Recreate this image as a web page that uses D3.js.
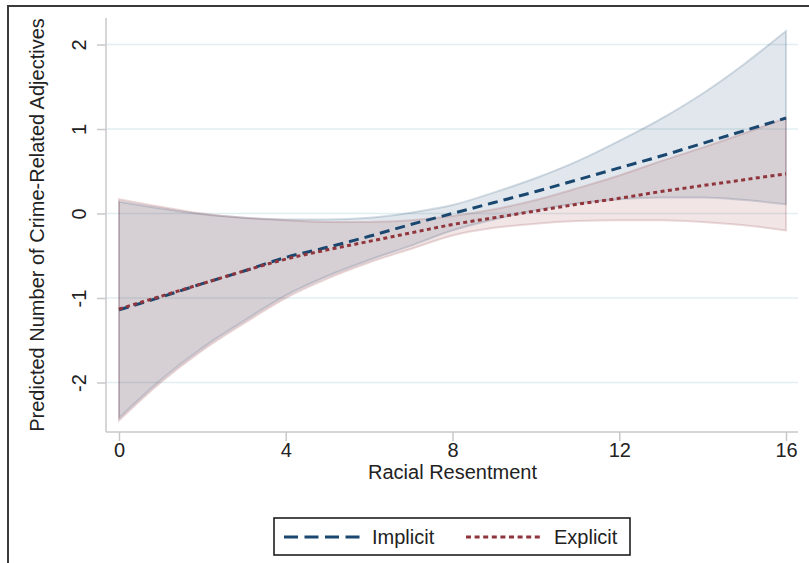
<!DOCTYPE html>
<html>
<head>
<meta charset="UTF-8">
<style>
body{
	margin: 0;
	font-family: "Liberation Sans", Arial, sans-serif;
	background: #fff;
}
.grid line{
	stroke: #e2eef1;
	stroke-width: 1.5;
}
.axis path, .axis line{
	stroke: #c8c8c8;
	stroke-width: 1.5;
	fill: none;
}
.axis text, .axis-label, .legend text{
	font-size: 20px;
	fill: #222;
}
</style>
<script src="https://cdn.jsdelivr.net/npm/d3@7"></script>
</head>
<body>
<script>
var resentment   = [0, 1, 2, 3, 4, 5, 6, 7, 8, 9, 10, 11, 12, 13, 14, 15, 16];
var implicitFit  = [-1.14, -0.99, -0.83, -0.68, -0.52, -0.40, -0.27, -0.13, 0.00, 0.13, 0.26, 0.40, 0.54, 0.68, 0.83, 0.98, 1.13];
var implicitHi   = [0.14, 0.06, -0.01, -0.05, -0.07, -0.07, -0.05, 0.01, 0.10, 0.25, 0.42, 0.62, 0.86, 1.12, 1.42, 1.77, 2.16];
var implicitLo   = [-2.42, -1.97, -1.59, -1.27, -0.97, -0.74, -0.55, -0.38, -0.20, -0.07, 0.04, 0.12, 0.17, 0.19, 0.19, 0.16, 0.11];
var explicitFit  = [-1.13, -0.98, -0.83, -0.68, -0.54, -0.43, -0.33, -0.23, -0.13, -0.05, 0.03, 0.11, 0.18, 0.26, 0.33, 0.40, 0.47];
var explicitHi   = [0.17, 0.08, 0.00, -0.05, -0.08, -0.10, -0.10, -0.08, -0.03, 0.05, 0.16, 0.30, 0.45, 0.62, 0.78, 0.95, 1.13];
var explicitLo   = [-2.45, -2.00, -1.62, -1.30, -1.00, -0.77, -0.58, -0.42, -0.26, -0.17, -0.12, -0.09, -0.08, -0.08, -0.10, -0.14, -0.20];
var xTicks = [0, 4, 8, 12, 16];
var yTicks = [-2, -1, 0, 1, 2];
var seriesNames = ["Implicit", "Explicit"];

var W = 809, H = 563;
var plot = {left: 106, right: 798, top: 18, bottom: 432};

var x = d3.scaleLinear().domain([0, 16]).range([119, 786]);
var y = d3.scaleLinear().domain([0, 2]).range([213.5, 44.5]);

var svg = d3.select("body").append("svg")
	.attr("width", W)
	.attr("height", H);

// outer frame, runs off the page on the right and bottom
svg.append("rect")
	.attr("x", 8).attr("y", 6)
	.attr("width", 900).attr("height", 700)
	.attr("fill", "none")
	.attr("stroke", "#3a3a3a")
	.attr("stroke-width", 2);

svg.append("g").attr("class", "grid")
	.selectAll("line")
	.data(yTicks)
	.enter().append("line")
	.attr("x1", plot.left).attr("x2", plot.right)
	.attr("y1", function(d){ return y(d); })
	.attr("y2", function(d){ return y(d); });

function rows(fit, hi, lo){
	return resentment.map(function(r, i){ return {x: r, fit: fit[i], hi: hi[i], lo: lo[i]}; });
}
var series = [
	{name: seriesNames[0], rows: rows(implicitFit, implicitHi, implicitLo), color: "#1a476f", dash: "10,6", keyDash: "14,6.5"},
	{name: seriesNames[1], rows: rows(explicitFit, explicitHi, explicitLo), color: "#90353b", dash: "4,3.4", keyDash: "5,3.6"}
];

var band = d3.area().curve(d3.curveMonotoneX)
	.x(function(d){ return x(d.x); })
	.y0(function(d){ return y(d.lo); })
	.y1(function(d){ return y(d.hi); });

var line = d3.line().curve(d3.curveMonotoneX)
	.x(function(d){ return x(d.x); })
	.y(function(d){ return y(d.fit); });

series.forEach(function(s){
	svg.append("path")
		.attr("d", band(s.rows))
		.attr("fill", s.color)
		.attr("fill-opacity", 0.13)
		.attr("stroke", s.color)
		.attr("stroke-opacity", 0.18)
		.attr("stroke-width", 2);
});

series.forEach(function(s){
	svg.append("path")
		.attr("d", line(s.rows))
		.attr("fill", "none")
		.attr("stroke", s.color)
		.attr("stroke-width", 3)
		.attr("stroke-dasharray", s.dash);
});

var fmt = function(d){ return String(d); };

var xAxis = svg.append("g").attr("class", "axis")
	.attr("transform", "translate(0," + plot.bottom + ")")
	.call(d3.axisBottom(x).tickValues(xTicks).tickFormat(fmt).tickSize(9).tickPadding(2).tickSizeOuter(0));
xAxis.select(".domain").attr("d", "M" + plot.left + ",0H" + plot.right);

var yAxis = svg.append("g").attr("class", "axis")
	.attr("transform", "translate(" + plot.left + ",0)")
	.call(d3.axisLeft(y).tickValues(yTicks).tickFormat(fmt).tickSize(9).tickSizeOuter(0));
yAxis.select(".domain").attr("d", "M0," + plot.top + "V" + plot.bottom);
yAxis.selectAll("text")
	.attr("x", 0).attr("dy", 0)
	.attr("text-anchor", "middle")
	.attr("transform", "translate(-27,0) rotate(-90) translate(0,7)");

svg.append("text").attr("class", "axis-label")
	.attr("x", (x(0) + x(16)) / 2).attr("y", 479)
	.attr("text-anchor", "middle")
	.text("Racial Resentment");

svg.append("text").attr("class", "axis-label")
	.attr("transform", "translate(44," + (plot.top + plot.bottom) / 2 + ") rotate(-90)")
	.attr("text-anchor", "middle")
	.text("Predicted Number of Crime-Related Adjectives");

// legend
var legend = svg.append("g").attr("class", "legend");
legend.append("rect")
	.attr("x", 274).attr("y", 518)
	.attr("width", 356).attr("height", 37)
	.attr("fill", "#fff")
	.attr("stroke", "#111")
	.attr("stroke-width", 1.5);
var keyX = [284, 466];
series.forEach(function(s, i){
	legend.append("line")
		.attr("x1", keyX[i]).attr("x2", keyX[i] + 77)
		.attr("y1", 537).attr("y2", 537)
		.attr("stroke", s.color)
		.attr("stroke-width", 3)
		.attr("stroke-dasharray", s.keyDash);
	legend.append("text")
		.attr("x", keyX[i] + 88).attr("y", 544)
		.text(s.name);
});
</script>
</body>
</html>
